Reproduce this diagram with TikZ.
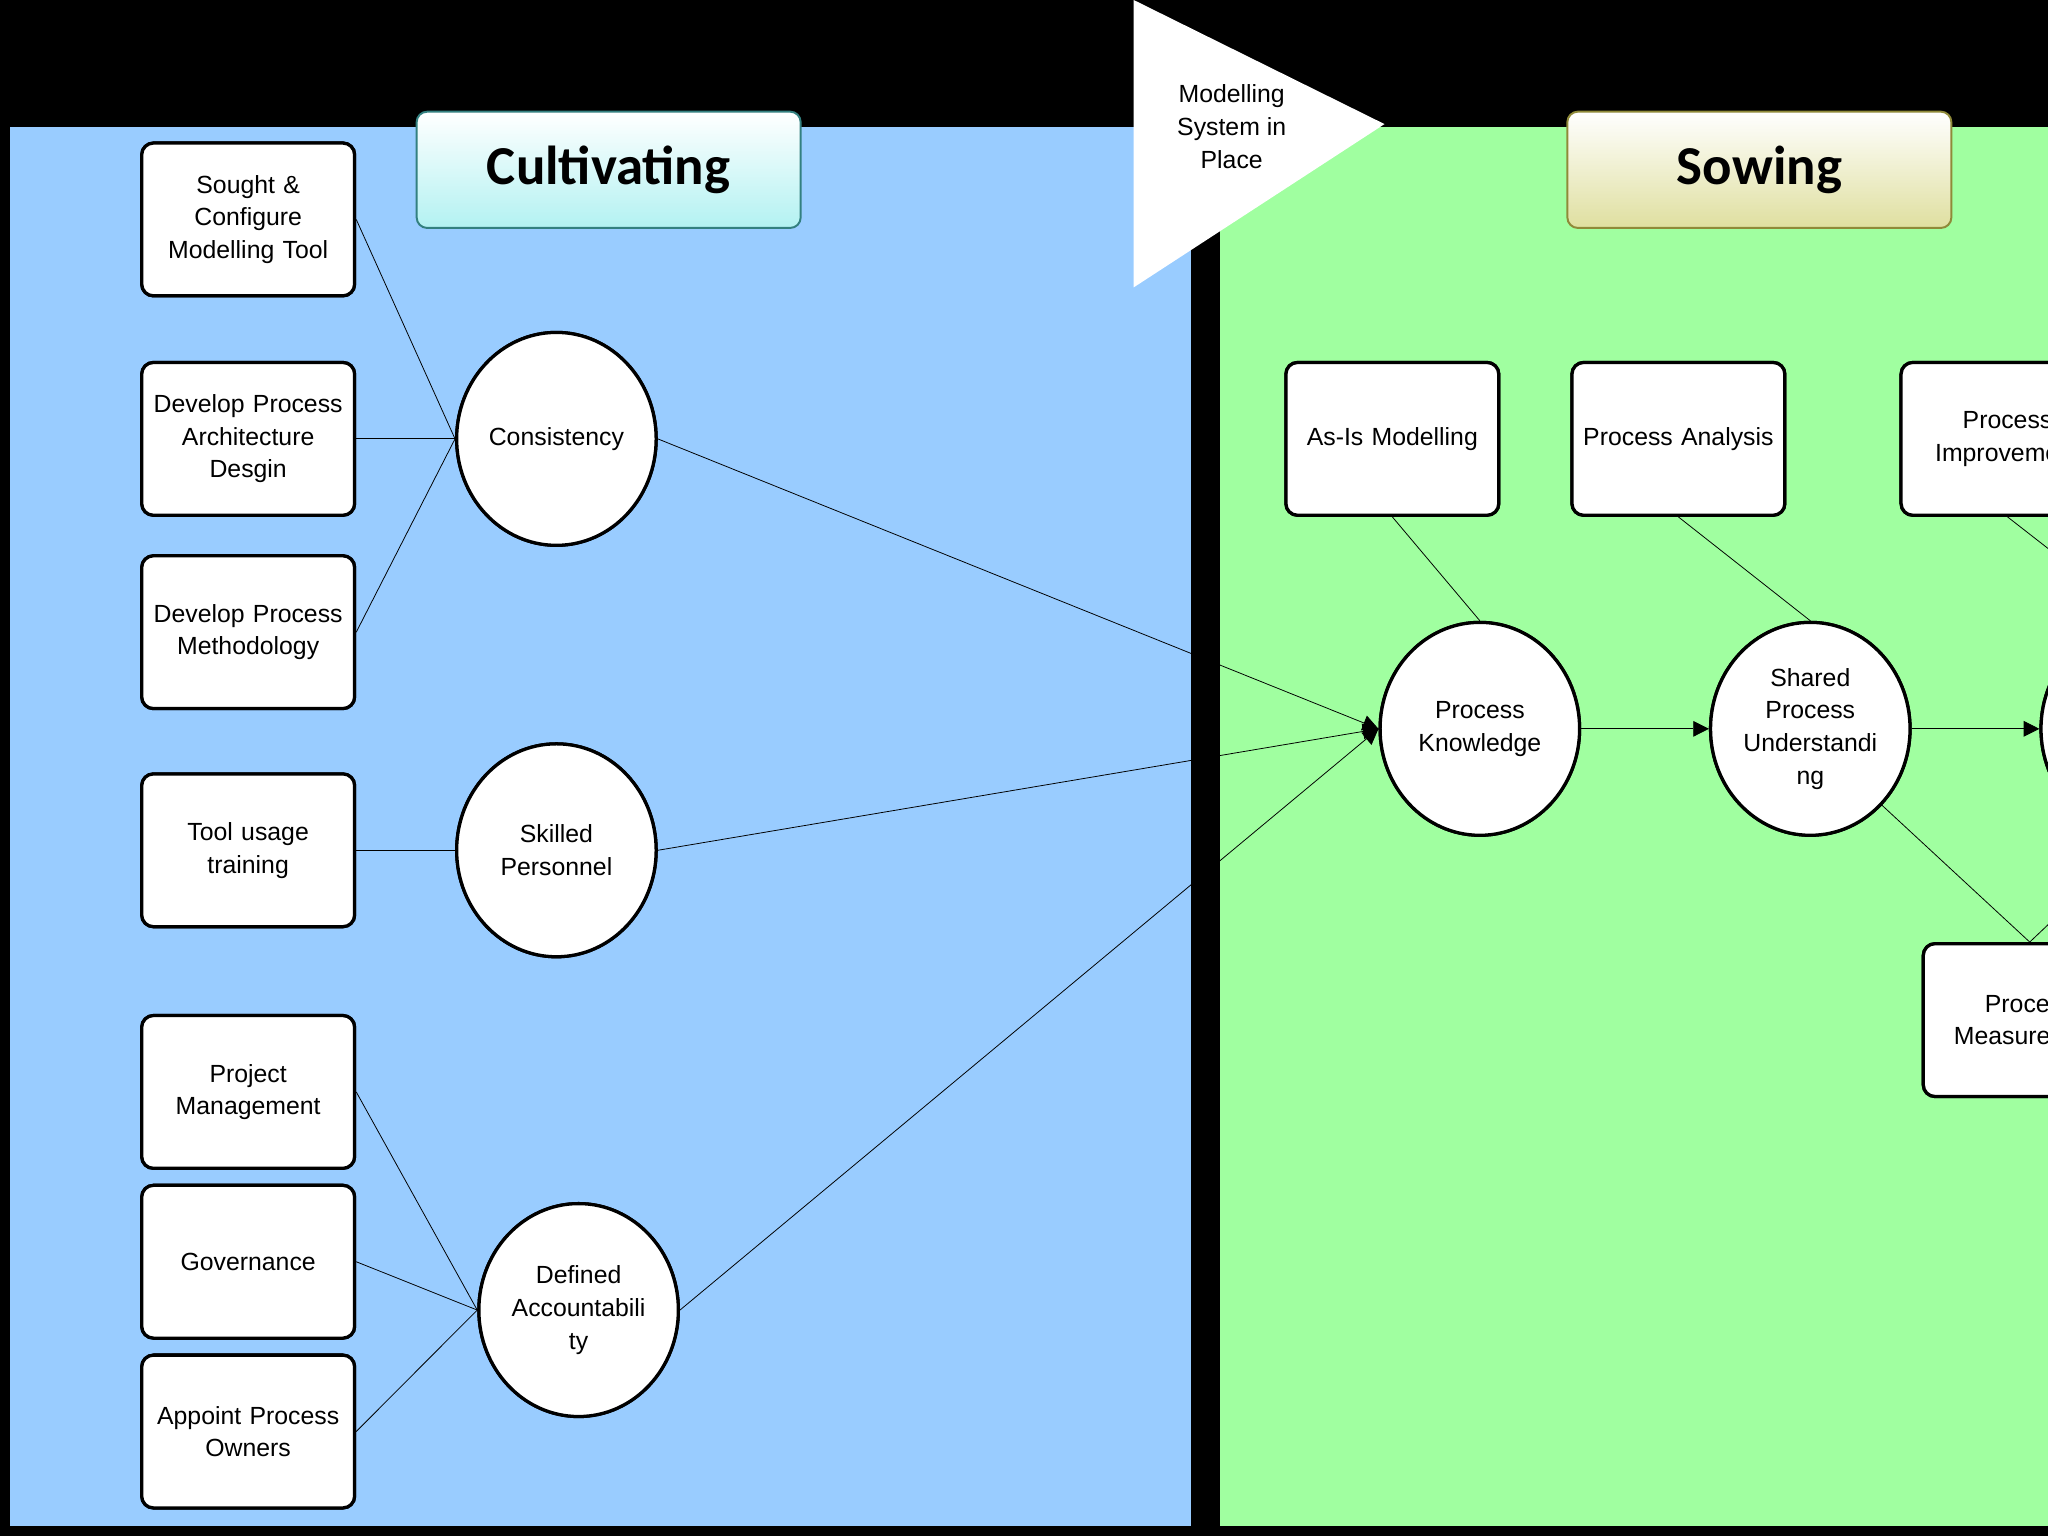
\documentclass[tikz,border=0pt]{standalone}
\usepackage{fontspec}
\setmainfont{Liberation Sans}
\newfontfamily\hdr{Carlito}
\usetikzlibrary{arrows.meta,shapes.geometric}
\begin{document}
\begin{tikzpicture}[x=1pt,y=-1pt,
 box/.style={draw=black,line width=2.5pt,rounded corners=9pt,fill=white,minimum width=163pt,minimum height=117pt,align=center,font=\fontsize{19}{25}\selectfont,text width=155pt},
 circ/.style={draw=black,line width=2.5pt,ellipse,inner sep=0pt,fill=white,minimum width=150pt,minimum height=163pt,align=center,font=\fontsize{19}{25}\selectfont,text width=108pt},
 ln/.style={draw=black,line width=0.6pt},
 ar/.style={ln,-{Triangle[length=12pt,width=12pt]}},
 hd/.style={rounded corners=8pt,minimum width=294pt,minimum height=89pt,font=\hdr\bfseries\fontsize{42}{46}\selectfont,draw=#1!60!gray,line width=1.5pt}]
\useasboundingbox (0,0) rectangle (1568,1176);
\begin{scope}
\clip (0,0) rectangle (1568,1176);
\fill[black] (0,0) rectangle (1568,1176);
\fill[fill={rgb,255:red,153;green,204;blue,255}] (8,97) rectangle (912,1168);
\fill[fill={rgb,255:red,160;green,255;blue,160}] (934,97) rectangle (1580,1168);
% nodes
\node[box] (b1) at (190,168) {Sought \&\\Configure\\Modelling Tool};
\node[box] (b2) at (190,336) {Develop Process\\Architecture\\Desgin};
\node[box] (b3) at (190,484) {Develop Process\\Methodology};
\node[box] (b4) at (190,651) {Tool usage\\training};
\node[box] (b5) at (190,836) {Project\\Management};
\node[box] (b6) at (190,966) {Governance};
\node[box] (b7) at (190,1096) {Appoint Process\\Owners};
\node[circ] (c1) at (426,336) {Consistency};
\node[circ] (c2) at (426,651) {Skilled\\Personnel};
\node[circ] (c3) at (443,1003) {Defined\\Accountabili\\ty};
\node[box] (r1) at (1066,336) {As-Is Modelling};
\node[box] (r2) at (1285,336) {Process Analysis};
\node[box] (r3) at (1537,336) {Process\\Improvement};
\node[box] (r4) at (1554,781) {Process\\Measurement};
\node[circ] (k1) at (1133,558) {Process\\Knowledge};
\node[circ] (k2) at (1386,558) {Shared\\Process\\Understandi\\ng};
\node[circ] (k3) at (1639,558) {};
% connectors
\draw[ln] (b1.east) -- (c1.west);
\draw[ln] (b2.east) -- (c1.west);
\draw[ln] (b3.east) -- (c1.west);
\draw[ln] (b4.east) -- (c2.west);
\draw[ln] (b5.east) -- (c3.west);
\draw[ln] (b6.east) -- (c3.west);
\draw[ln] (b7.east) -- (c3.west);
\draw[ar] (c1.east) -- (k1.west);
\draw[ar] (c2.east) -- (k1.west);
\draw[ar] (c3.east) -- (k1.west);
\draw[ar] (k1.east) -- (k2.west);
\draw[ar] (k2.east) -- (k3.west);
\draw[ln] (r1.south) -- (k1.north);
\draw[ln] (r2.south) -- (k2.north);
\draw[ln] (r3.south) -- (k3.north);
\draw[ln] (k2.south east) -- (r4.north);
\draw[ln] (r4.north) -- (k3.south);
\fill[black] (912,97) rectangle (934,1168);
% redraw nodes over lines
\node[box] at (b1) {Sought \&\\Configure\\Modelling Tool};
\node[box] at (b2) {Develop Process\\Architecture\\Desgin};
\node[box] at (b3) {Develop Process\\Methodology};
\node[box] at (b4) {Tool usage\\training};
\node[box] at (b5) {Project\\Management};
\node[box] at (b6) {Governance};
\node[box] at (b7) {Appoint Process\\Owners};
\node[circ] at (c1) {Consistency};
\node[circ] at (c2) {Skilled\\Personnel};
\node[circ] at (c3) {Defined\\Accountabili\\ty};
\node[box] at (r1) {As-Is Modelling};
\node[box] at (r2) {Process Analysis};
\node[box] at (r3) {Process\\Improvement};
\node[box] at (r4) {Process\\Measurement};
\node[circ] at (k1) {Process\\Knowledge};
\node[circ] at (k2) {Shared\\Process\\Understandi\\ng};
\node[circ] at (k3) {};
\fill[white] (868,0) -- (1060,95) -- (868,220) -- cycle;
\node[align=center,font=\fontsize{19}{25}\selectfont] (tri) at (943,97) {Modelling\\System in\\Place};
\node[hd=teal,top color=white,bottom color=teal!35!cyan!30] (h1) at (466,130) {Cultivating};
\node[hd=olive,top color=white,bottom color=olive!25] (h2) at (1347,130) {Sowing};
\end{scope}
\end{tikzpicture}
\end{document}
